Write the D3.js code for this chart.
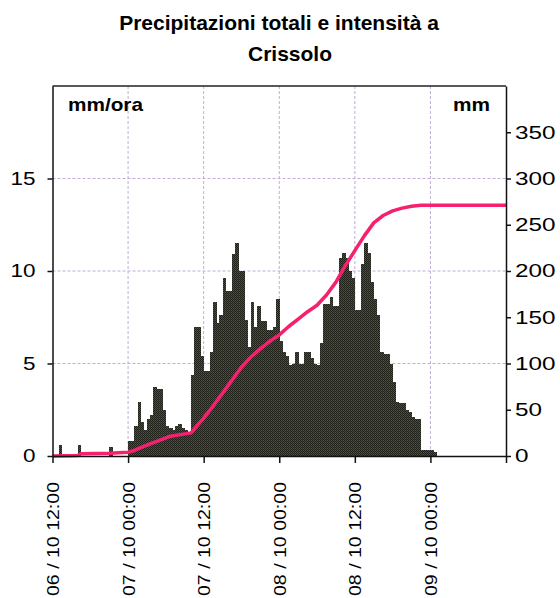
<!DOCTYPE html>
<html>
<head>
<meta charset="utf-8">
<script src="https://cdn.jsdelivr.net/npm/d3@7"></script>
<style>
  body { margin: 0; background: #fff; }
  svg text { font-family: "Liberation Sans", Arial, sans-serif; fill: #000; }
</style>
</head>
<body>
<script>
// intensita' di pioggia (mm/ora), un valore ogni mezz'ora a partire da 06/10 12:00
var intensity = [
  0, 0, 0.6, 0, 0, 0, 0, 0, 0.6, 0, 0, 0, 0, 0, 0, 0, 0, 0, 0.5, 0, 0, 0, 0, 0,
  0.8, 0.8, 1.6, 2.9, 1.85, 1.4, 2.0, 2.2, 3.75, 3.6, 3.6, 2.5, 1.6, 1.5, 1.4, 1.6, 1.75, 1.5, 1.4, 1.3,
  4.4, 7.0, 7.0, 5.4, 4.6, 4.6, 5.6, 8.3, 7.2, 7.6, 9.6, 8.9, 8.9, 10.9, 11.5, 10.0, 10.0, 7.35, 5.9, 8.3,
  7.0, 8.1, 7.3, 7.3, 6.8, 6.8, 7.0, 8.5,
  6.2, 5.6, 5.4, 4.9, 5.0, 5.6, 5.0, 5.0, 5.6, 5.6, 5.3, 5.0, 4.9, 6.1, 8.2, 8.2, 8.6, 8.1, 8.1, 10.7,
  11.0, 10.7, 10.0, 9.6,
  7.9, 7.9, 10.4, 11.5, 11.0, 9.4, 8.5, 7.6, 5.6, 5.5, 5.5, 5.0, 4.0, 2.9, 2.85, 2.85, 2.5, 2.4, 2.1, 2.0,
  2.0, 0.35, 0.3, 0.3, 0.35, 0.2,
  0, 0, 0, 0, 0, 0, 0, 0, 0, 0, 0, 0, 0, 0, 0, 0, 0, 0, 0, 0, 0, 0
];

// precipitazione cumulata (mm)
var cumStep  = [0, 8, 9, 18, 24, 26, 28, 31, 34, 37, 44, 46, 48, 51, 54, 57, 60, 63, 66, 69, 72,
                75, 78, 81, 84, 87, 90, 93, 96, 99, 102, 105, 108, 111, 114, 117, 121, 144];
var cumValue = [0, 0.5, 2.5, 3, 4, 6, 9, 13, 17, 21, 25, 33, 41, 54, 68, 82, 96, 107, 116, 124, 131,
                140, 148, 156, 163, 174, 188, 206, 222, 238, 252, 260, 265, 268, 270, 271, 271, 271];

var timeTicks  = [0, 24, 48, 72, 96, 120, 144];
var timeLabels = ["06 / 10 12:00", "07 / 10 00:00", "07 / 10 12:00", "08 / 10 00:00",
                  "08 / 10 12:00", "09 / 10 00:00", ""];
var leftTicks  = [0, 5, 10, 15];
var rightTicks = [0, 50, 100, 150, 200, 250, 300, 350];

var width = 560, height = 598;
var margin = {top: 86, right: 54, bottom: 142, left: 52.5};

var svg = d3.select("body").append("svg")
    .attr("width", width)
    .attr("height", height);

// texture scura delle barre
var pat = svg.append("defs").append("pattern")
    .attr("id", "dots")
    .attr("width", 2).attr("height", 2)
    .attr("patternUnits", "userSpaceOnUse");
pat.append("rect").attr("width", 2).attr("height", 2).attr("fill", "#1f2119");
pat.append("rect").attr("x", 1).attr("width", 1).attr("height", 1).attr("fill", "#4d5a38");
pat.append("rect").attr("y", 1).attr("width", 1).attr("height", 1).attr("fill", "#5c3844");

var x = d3.scaleLinear().domain([0, 144]).range([margin.left, width - margin.right]);
var yLeft = d3.scaleLinear().domain([0, 20]).range([height - margin.bottom, margin.top]);
var yRight = d3.scaleLinear().domain([0, 400]).range([height - margin.bottom, margin.top]);

// titolo
svg.append("text")
    .attr("x", 279).attr("y", 30)
    .attr("text-anchor", "middle")
    .style("font-size", "21px").style("font-weight", "bold")
    .text("Precipitazioni totali e intensità a");
svg.append("text")
    .attr("x", 290).attr("y", 61)
    .attr("text-anchor", "middle")
    .style("font-size", "21px").style("font-weight", "bold")
    .text("Crissolo");

// griglia
var grid = svg.append("g")
    .attr("stroke", "#c0acd6")
    .attr("stroke-width", 1)
    .attr("stroke-dasharray", "3,2");
grid.selectAll(".gx")
    .data(timeTicks.slice(1, 6))
    .enter().append("line")
    .attr("x1", function (d) { return x(d); })
    .attr("x2", function (d) { return x(d); })
    .attr("y1", margin.top)
    .attr("y2", height - margin.bottom);
grid.selectAll(".gy")
    .data(leftTicks.slice(1))
    .enter().append("line")
    .attr("x1", margin.left)
    .attr("x2", width - margin.right)
    .attr("y1", function (d) { return yLeft(d); })
    .attr("y2", function (d) { return yLeft(d); });

// barre intensita'
svg.append("g")
    .selectAll("rect")
    .data(intensity)
    .enter().append("rect")
    .attr("x", function (d, i) { return x(i); })
    .attr("width", function (d, i) { return x(i + 1) - x(i) + 0.4; })
    .attr("y", function (d) { return yLeft(d); })
    .attr("height", function (d) { return yLeft(0) - yLeft(d); })
    .attr("fill", "url(#dots)")
    .attr("shape-rendering", "crispEdges");

// curva cumulata
var line = d3.line()
    .x(function (d, i) { return x(cumStep[i]); })
    .y(function (d) { return yRight(d); });
svg.append("path")
    .datum(cumValue)
    .attr("d", line)
    .attr("fill", "none")
    .attr("stroke", "#f5206e")
    .attr("stroke-width", 3.5)
    .attr("stroke-linejoin", "round");

// assi
svg.append("line")
    .attr("x1", margin.left).attr("x2", width - margin.right)
    .attr("y1", margin.top).attr("y2", margin.top)
    .attr("stroke", "#222").attr("stroke-width", 1.5);

var gl = svg.append("g")
    .attr("transform", "translate(" + margin.left + ",0)")
    .call(d3.axisLeft(yLeft).tickValues(leftTicks).tickSize(5).tickSizeOuter(0).tickPadding(12));
gl.selectAll("text")
    .style("font-size", "18px")
    .attr("textLength", function (d) { return String(d).length * 12.5; })
    .attr("lengthAdjust", "spacingAndGlyphs");

var gr = svg.append("g")
    .attr("transform", "translate(" + (width - margin.right) + ",0)")
    .call(d3.axisRight(yRight).tickValues(rightTicks).tickSize(5).tickSizeOuter(0).tickPadding(4));
gr.selectAll("text")
    .style("font-size", "18px")
    .attr("textLength", function (d) { return String(d).length * 13.5; })
    .attr("lengthAdjust", "spacingAndGlyphs");

var gb = svg.append("g")
    .attr("transform", "translate(0," + (height - margin.bottom) + ")")
    .call(d3.axisBottom(x).tickValues(timeTicks).tickSize(7).tickSizeOuter(0)
        .tickFormat(function (d, i) { return timeLabels[i]; }));
gb.selectAll("text")
    .style("font-size", "17px")
    .attr("text-anchor", "end")
    .attr("transform", "rotate(-90)")
    .attr("x", -26)
    .attr("y", 0)
    .attr("dy", "0.36em")
    .attr("textLength", function (d, i) { return timeLabels[i] ? 114 : 0; })
    .attr("lengthAdjust", "spacingAndGlyphs");

[gl, gr, gb].forEach(function (g) {
    g.select(".domain").attr("stroke", "#111").attr("stroke-width", 1.5);
    g.selectAll(".tick line").attr("stroke", "#111").attr("stroke-width", 1.5);
    g.selectAll("text").style("font-family", "'Liberation Sans', Arial, sans-serif").attr("fill", "#000");
});

// unita'
svg.append("text")
    .attr("x", 68).attr("y", 111)
    .style("font-size", "19px").style("font-weight", "bold")
    .attr("textLength", 75).attr("lengthAdjust", "spacingAndGlyphs")
    .text("mm/ora");
svg.append("text")
    .attr("x", 453).attr("y", 111)
    .style("font-size", "19px").style("font-weight", "bold")
    .attr("textLength", 37).attr("lengthAdjust", "spacingAndGlyphs")
    .text("mm");
</script>
</body>
</html>
